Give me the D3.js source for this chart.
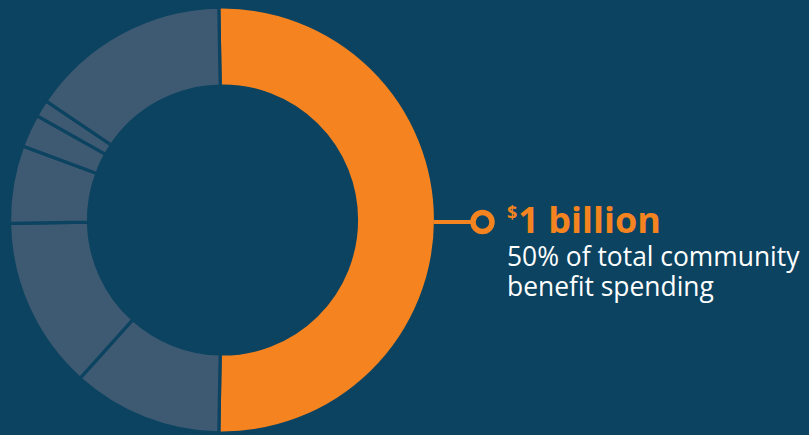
<!DOCTYPE html>
<html>
<head>
<meta charset="utf-8">
<script src="https://cdn.jsdelivr.net/npm/d3@7"></script>
<style>
  html, body { margin: 0; padding: 0; background: #0c4360; }
  svg { display: block; }
</style>
</head>
<body>
<svg id="chart" width="809" height="435"></svg>
<script>
// ---- data ----
const categories = ["Highlighted spending", "Other 1", "Other 2", "Other 3", "Other 4", "Other 5", "Other 6"];
const shares = [50.6, 11.4, 13.1, 5.9, 2.5, 1.3, 15.3];
const highlightIndex = 0;
const headlinePrefix = "$";
const headlineText = "1 billion";
const subLines = ["50% of total community", "benefit spending"];

// ---- style ----
const W = 809, H = 435;
const bg = "#0c4360", grey = "#3e5a73", orange = "#f58420", white = "#ffffff";
const cx = 222.5, cy = 220, rOuter = 213, rInner = 134;

const svg = d3.select("#chart");
svg.append("rect").attr("width", W).attr("height", H).attr("fill", bg);

const total = d3.sum(shares);
const f = shares[highlightIndex] / total;
const start = Math.PI / 2 - Math.PI * f;

const pie = d3.pie().sort(null).value(d => d)
  .startAngle(start).endAngle(start + 2 * Math.PI);
const arc = d3.arc().innerRadius(rInner).outerRadius(rOuter);

const g = svg.append("g").attr("transform", `translate(${cx},${cy})`);
g.selectAll("path.slice")
  .data(pie(shares))
  .join("path")
  .attr("class", "slice")
  .attr("d", arc)
  .attr("fill", (d, i) => i === highlightIndex ? orange : grey)
  .attr("stroke", bg)
  .attr("stroke-width", 3.2)
  .append("title").text((d, i) => `${categories[i]}: ${shares[i]}%`);

// connector + marker
const lineY = cy + 2;
const markerX = 482.5;
svg.append("line")
  .attr("x1", cx + rOuter - 2).attr("x2", markerX - 10)
  .attr("y1", lineY).attr("y2", lineY)
  .attr("stroke", orange).attr("stroke-width", 4);
svg.append("circle")
  .attr("cx", markerX).attr("cy", lineY).attr("r", 9.5)
  .attr("fill", "none").attr("stroke", orange).attr("stroke-width", 5.5);

// annotation text
const tx = 507;
const head = svg.append("text")
  .attr("x", tx).attr("y", 233.3)
  .attr("font-family", "'Open Sans', sans-serif")
  .attr("font-weight", 700)
  .attr("fill", orange);
head.append("tspan").attr("font-size", 18).attr("dy", -14).text(headlinePrefix);
head.append("tspan").attr("font-size", 36).attr("dx", 1).attr("dy", 14).text(headlineText);

svg.selectAll("text.sub")
  .data(subLines)
  .join("text")
  .attr("class", "sub")
  .attr("x", tx)
  .attr("y", (d, i) => 265.7 + i * 30)
  .attr("font-family", "'Open Sans', sans-serif")
  .attr("font-size", 26.4)
  .attr("fill", white)
  .text(d => d);
</script>
</body>
</html>
